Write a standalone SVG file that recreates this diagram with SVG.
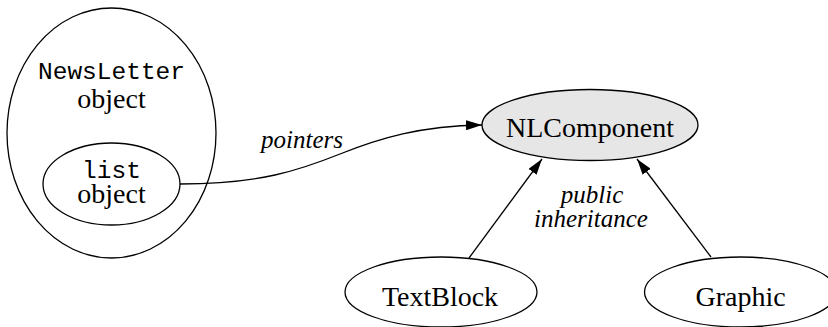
<svg xmlns="http://www.w3.org/2000/svg" width="828" height="327" viewBox="0 0 828 327">
<defs>
<marker id="arr" viewBox="0 0 16 10" refX="16" refY="5" markerWidth="16" markerHeight="10" markerUnits="userSpaceOnUse" orient="auto">
<path d="M0,0 L16,5 L0,10 Z" fill="#000"/>
</marker>
<style>
.n{fill:#fff;stroke:#000;stroke-width:1.3}
.g{fill:#e6e6e6;stroke:#000;stroke-width:1.3}
.t{font-family:"Liberation Serif",serif;font-size:28px;text-anchor:middle;fill:#000}
.m{font-family:"Liberation Mono",monospace;font-size:24.5px;text-anchor:middle;fill:#000}
.i{font-family:"Liberation Serif",serif;font-style:italic;font-size:25px;text-anchor:middle;fill:#000}
.e{fill:none;stroke:#000;stroke-width:1.3;marker-end:url(#arr)}
</style>
</defs>
<g id="newsletter">
<ellipse class="n" cx="111.5" cy="133" rx="104.5" ry="125"/>
<text class="m" x="111.5" y="79">NewsLetter</text>
<text class="t" x="111.5" y="108">object</text>
</g>
<g id="list">
<ellipse class="n" cx="111.5" cy="184" rx="68.5" ry="41"/>
<text class="m" x="111.5" y="178">list</text>
<text class="t" x="111.5" y="203">object</text>
</g>
<g id="nlcomponent">
<ellipse class="g" cx="590" cy="125" rx="108" ry="35.5"/>
<text class="t" x="590" y="137">NLComponent</text>
</g>
<g id="textblock">
<ellipse class="n" cx="441" cy="292" rx="96" ry="35"/>
<text class="t" x="440" y="306">TextBlock</text>
</g>
<g id="graphic">
<ellipse class="n" cx="740.5" cy="292" rx="96" ry="35"/>
<text class="t" x="740.5" y="306">Graphic</text>
</g>
<g id="connectors">
<path class="e" d="M180,184 C260,184 300,170 340,154 C380,138 420,126 482,125"/>
<path class="e" d="M469,258 L542,159"/>
<path class="e" d="M711,257 L637,159"/>
<text class="i" x="302" y="148">pointers</text>
<text class="i" x="592" y="203">public</text>
<text class="i" x="591" y="227">inheritance</text>
</g>
</svg>
